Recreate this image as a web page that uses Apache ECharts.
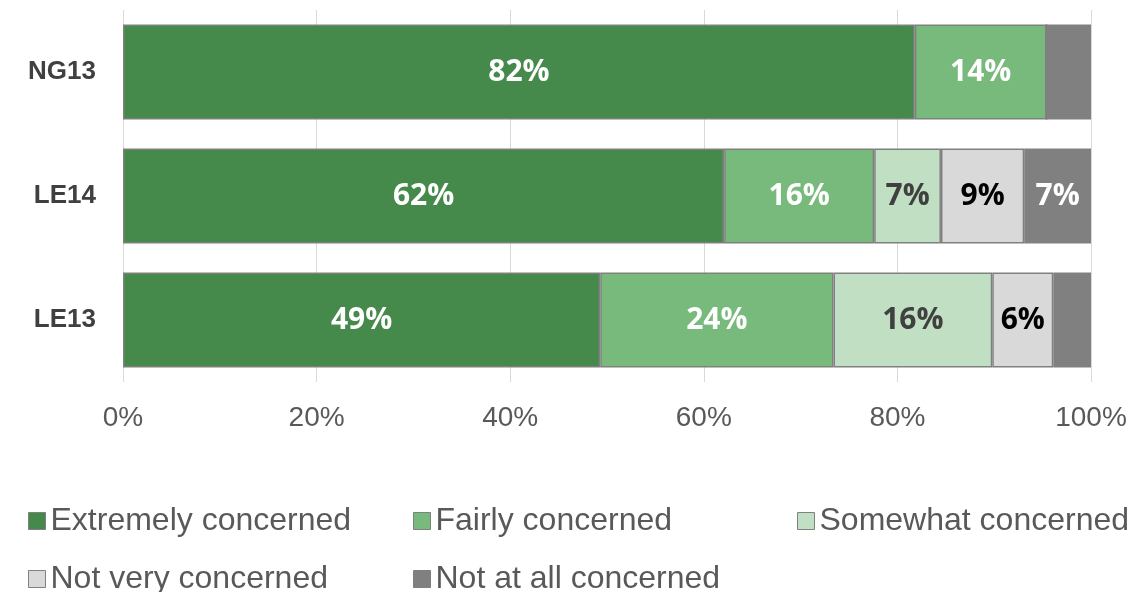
<!DOCTYPE html>
<html>
<head>
<meta charset="utf-8">
<script src="https://cdn.jsdelivr.net/npm/echarts@6/dist/echarts.min.js"></script>
<style>
  html, body { margin: 0; padding: 0; background: #ffffff; }
  #chart { width: 1138px; height: 592px; }
</style>
</head>
<body>
<div id="chart"></div>
<script>
// Survey groups (top to bottom)
const categories = ['NG13', 'LE14', 'LE13'];

// Share of respondents per answer, percent
const seriesNames = [
  'Extremely concerned',
  'Fairly concerned',
  'Somewhat concerned',
  'Not very concerned',
  'Not at all concerned'
];
const extremely = [81.8, 62.1, 49.3];
const fairly    = [13.6, 15.5, 24.1];
const somewhat  = [0,    6.9,  16.4];
const notVery   = [0,    8.6,  6.3];
const notAtAll  = [4.6,  6.9,  3.9];

const xTicks = [0, 20, 40, 60, 80, 100];

const values = [extremely, fairly, somewhat, notVery, notAtAll];
const colors = ['#468a4b', '#78b97c', '#c1e0c3', '#d9d9d9', '#808080'];
const labelColors = ['#ffffff', '#ffffff', '#404040', '#000000', '#ffffff'];

// Legend grid: three columns, two rows
const legendCols = [28, 413, 797];
const legendRows = [505, 563];

const chart = echarts.init(document.getElementById('chart'), null, { renderer: 'canvas' });

const series = seriesNames.map((name, i) => ({
  name: name,
  type: 'bar',
  stack: 'total',
  barCategoryGap: '23.5%',
  data: values[i],
  itemStyle: { color: colors[i], borderColor: '#808080', borderWidth: 1.5 },
  emphasis: { disabled: true },
  label: {
    show: true,
    position: 'inside',
    color: labelColors[i],
    fontFamily: 'Open Sans',
    fontWeight: 'bold',
    fontSize: 30,
    formatter: p => (p.value >= 5 ? Math.round(p.value) + '%' : '')
  }
}));

// One legend block per entry so the entries sit in fixed columns
const legends = seriesNames.map((name, i) => ({
  orient: 'horizontal',
  left: legendCols[i % 3],
  top: legendRows[Math.floor(i / 3)],
  padding: 0,
  itemWidth: 17,
  itemHeight: 17,
  itemTextGap: 11,
  icon: 'rect',
  selectedMode: false,
  itemStyle: { borderColor: '#808080', borderWidth: 1 },
  textStyle: {
    color: '#595959',
    fontFamily: 'Liberation Sans',
    fontSize: 32
  },
  data: [name]
}));

chart.setOption({
  backgroundColor: '#ffffff',
  animation: false,
  grid: { left: 123, right: 47, top: 10, bottom: 210 },
  legend: legends,
  xAxis: {
    type: 'value',
    min: xTicks[0],
    max: xTicks[xTicks.length - 1],
    interval: xTicks[1] - xTicks[0],
    axisLine: { show: false },
    axisTick: { show: false },
    splitLine: { show: true, lineStyle: { color: '#d9d9d9', width: 1 } },
    axisLabel: {
      color: '#595959',
      fontFamily: 'Liberation Sans',
      fontSize: 28,
      margin: 22,
      formatter: v => v + '%'
    }
  },
  yAxis: {
    type: 'category',
    data: categories,
    inverse: true,
    axisLine: { show: false },
    axisTick: { show: false },
    splitLine: { show: false },
    axisLabel: {
      color: '#404040',
      fontFamily: 'Liberation Sans',
      fontWeight: 'bold',
      fontSize: 26,
      margin: 27
    }
  },
  series: series
});
</script>
</body>
</html>
